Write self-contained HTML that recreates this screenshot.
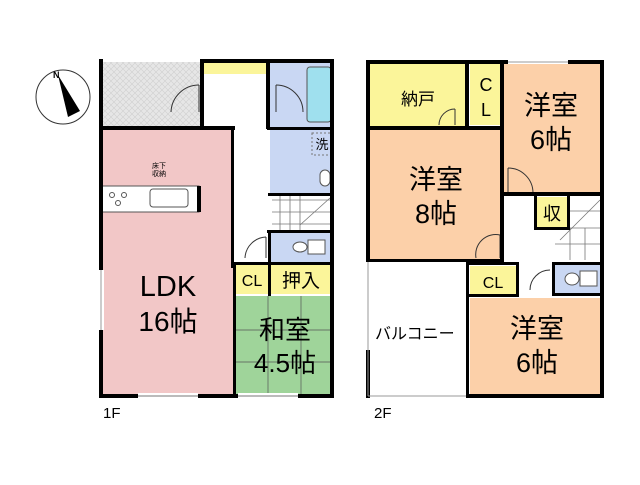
<!DOCTYPE html>
<html><head><meta charset="utf-8"><style>
html,body{margin:0;padding:0;background:#fff;}
svg text{font-family:"Liberation Sans","Noto Sans CJK JP",sans-serif;}
</style></head><body>
<svg width="640" height="480" viewBox="0 0 640 480" xmlns="http://www.w3.org/2000/svg">
<defs>
<pattern id="hatch" width="6" height="6" patternUnits="userSpaceOnUse">
<rect width="6" height="6" fill="#e6e6e6"/><path d="M0 6L6 0M0 0L6 6" stroke="#cfcfcf" stroke-width="0.6"/>
</pattern>
</defs>
<circle cx="63" cy="97" r="27" fill="#fff" stroke="#333" stroke-width="1"/>
<polygon points="58,75 80,111 68,117" fill="#000"/>
<text x="53" y="78" font-size="9" font-weight="bold">N</text>

<rect x="102" y="62" width="99" height="65" fill="url(#hatch)"/>
<rect x="102" y="128" width="131" height="268" fill="#f2c7c7"/>
<rect x="203" y="62" width="64" height="12" fill="#fbf59a"/>
<rect x="270" y="62" width="63" height="66" fill="#c9d7f3"/>
<rect x="307" y="67" width="24" height="55" rx="3" fill="#9fe0ee" stroke="#555" stroke-width="1"/>
<rect x="270" y="130" width="63" height="64" fill="#c9d7f3"/>
<rect x="270" y="232" width="63" height="30" fill="#c9d7f3"/>
<rect x="236" y="264" width="32" height="30" fill="#fbf59a"/>
<rect x="270" y="264" width="63" height="30" fill="#fbf59a"/>
<rect x="236" y="296" width="97" height="100" fill="#9fd49a"/>
<g stroke="#555" stroke-width="0.7" fill="none">
<line x1="268" y1="296" x2="268" y2="396"/><line x1="301" y1="296" x2="301" y2="396"/>
<line x1="236" y1="330" x2="333" y2="330"/><line x1="236" y1="362" x2="333" y2="362"/>
</g>
<rect x="102" y="186" width="97" height="26" fill="#fff" stroke="#555" stroke-width="1"/>
<rect x="150" y="189" width="38" height="18" rx="3" fill="#fff" stroke="#555"/>
<circle cx="112" cy="195" r="2.5" fill="none" stroke="#555"/><circle cx="124" cy="195" r="2.5" fill="none" stroke="#555"/><circle cx="118" cy="203" r="2.5" fill="none" stroke="#555"/>
<rect x="197" y="186" width="4" height="26" fill="#000"/>
<g stroke="#777" stroke-width="0.8">
<line x1="272" y1="200" x2="333" y2="200"/><line x1="272" y1="212" x2="333" y2="212"/><line x1="272" y1="224" x2="333" y2="224"/>
<line x1="280" y1="196" x2="280" y2="230"/><line x1="290" y1="196" x2="290" y2="230"/><line x1="300" y1="196" x2="300" y2="230"/>
<line x1="300" y1="225" x2="330" y2="198"/>
</g>
<rect x="320" y="170" width="10" height="16" rx="5" fill="#fff" stroke="#555"/>
<ellipse cx="300" cy="247" rx="7" ry="5" fill="#fff" stroke="#555"/><rect x="308" y="240" width="17" height="14" fill="#fff" stroke="#555"/>
<rect x="312" y="133" width="19" height="22" fill="none" stroke="#777" stroke-dasharray="2,2"/>
<g stroke="#333" stroke-width="1" fill="none">
<path d="M171 112 A28 28 0 0 1 199 85"/><line x1="199" y1="85" x2="199" y2="112"/>
<path d="M245 258 A22 22 0 0 1 266 237"/><line x1="266" y1="237" x2="266" y2="258"/>
<path d="M276 85 A27 27 0 0 1 303 112"/><line x1="276" y1="85" x2="276" y2="112"/>
</g>
<g fill="#000">
<rect x="99" y="59" width="4" height="339"/>
<rect x="99" y="394" width="235" height="4"/>
<rect x="330" y="59" width="4" height="339"/>
<rect x="99" y="126" width="136" height="4"/>
<rect x="231" y="126" width="3" height="142"/>
<rect x="200" y="59" width="4" height="70"/>
<rect x="266" y="59" width="4" height="70"/>
<rect x="200" y="59" width="134" height="4"/>
<rect x="267" y="127" width="67" height="3"/>
<rect x="268" y="193" width="66" height="3"/>
<rect x="267" y="230" width="67" height="3"/>
<rect x="232" y="262" width="102" height="3"/>
<rect x="233" y="262" width="3" height="136"/>
<rect x="268" y="230" width="3" height="66"/>
</g>
<g fill="#fff">
<rect x="138" y="393" width="60" height="6"/><rect x="238" y="393" width="60" height="6"/>
<rect x="98" y="270" width="6" height="60"/>
</g>
<line x1="138" y1="396" x2="198" y2="396" stroke="#777"/><line x1="238" y1="396" x2="298" y2="396" stroke="#777"/>
<line x1="101" y1="270" x2="101" y2="330" stroke="#999"/>

<text x="168" y="296" font-size="29" text-anchor="middle">LDK</text>
<text x="168" y="331" font-size="28" text-anchor="middle">16帖</text>
<text x="285" y="339" font-size="26" text-anchor="middle">和室</text>
<text x="285" y="372" font-size="26" text-anchor="middle">4.5帖</text>
<text x="252" y="286" font-size="16" text-anchor="middle">CL</text>
<text x="301" y="287" font-size="19" text-anchor="middle">押入</text>
<text x="322" y="149" font-size="13" text-anchor="middle">洗</text>
<text x="159" y="168" font-size="7" text-anchor="middle">床下</text>
<text x="159" y="176" font-size="7" text-anchor="middle">収納</text>
<text x="103" y="418" font-size="15">1F</text>

<rect x="370" y="64" width="97" height="63" fill="#fbf59a"/>
<rect x="470" y="64" width="32" height="61" fill="#fbf59a"/>
<rect x="503" y="64" width="99" height="130" fill="#fcd0a9"/>
<rect x="370" y="130" width="132" height="130" fill="#fcd0a9"/>
<rect x="537" y="197" width="30" height="30" fill="#fbf59a"/>
<rect x="470" y="266" width="47" height="30" fill="#fbf59a"/>
<rect x="555" y="264" width="47" height="30" fill="#c9d7f3"/>
<rect x="470" y="298" width="132" height="98" fill="#fcd0a9"/>
<ellipse cx="572" cy="279" rx="7" ry="6" fill="#fff" stroke="#555"/><rect x="580" y="271" width="17" height="15" fill="#fff" stroke="#555"/>
<g stroke="#777" stroke-width="0.8">
<line x1="570" y1="211" x2="602" y2="211"/><line x1="555" y1="228" x2="602" y2="228"/><line x1="555" y1="244" x2="602" y2="244"/>
<line x1="570" y1="228" x2="570" y2="260"/><line x1="585" y1="228" x2="585" y2="260"/>
<line x1="560" y1="240" x2="600" y2="200"/>
</g>
<g stroke="#333" stroke-width="1" fill="none">
<path d="M439 125 A16 16 0 0 1 455 109"/><line x1="455" y1="109" x2="455" y2="125"/>
<path d="M508 168 A25 25 0 0 1 533 193"/><line x1="508" y1="168" x2="508" y2="193"/>
<path d="M476 258 A20 20 0 0 1 500 235"/><line x1="500" y1="235" x2="500" y2="258"/>
<path d="M530 290 A20 20 0 0 1 550 270"/>
</g>
<g fill="#000">
<rect x="366" y="60" width="4" height="202"/>
<rect x="366" y="60" width="238" height="4"/>
<rect x="600" y="60" width="4" height="338"/>
<rect x="467" y="394" width="137" height="4"/>
<rect x="366" y="126" width="137" height="4"/>
<rect x="465" y="60" width="4" height="70"/>
<rect x="500" y="60" width="4" height="205"/>
<rect x="366" y="259" width="137" height="3"/>
<rect x="503" y="192" width="101" height="4"/>
<rect x="534" y="194" width="3" height="36"/>
<rect x="534" y="227" width="35" height="3"/>
<rect x="567" y="194" width="3" height="36"/>
<rect x="466" y="262" width="3" height="136"/>
<rect x="466" y="262" width="52" height="3"/>
<rect x="516" y="262" width="3" height="34"/>
<rect x="466" y="294" width="53" height="3"/>
<rect x="552" y="262" width="52" height="3"/>
<rect x="552" y="262" width="3" height="34"/>
<rect x="552" y="293" width="52" height="3"/>
<rect x="366" y="350" width="4" height="48"/>
</g>
<rect x="508" y="60" width="60" height="4" fill="#fff"/>
<g stroke="#999" fill="none"><line x1="368" y1="262" x2="368" y2="396"/><line x1="368" y1="396" x2="466" y2="396"/><line x1="508" y1="62" x2="568" y2="62"/></g>

<text x="418" y="105" font-size="17" text-anchor="middle">納戸</text>
<text x="486" y="91" font-size="18" text-anchor="middle">C</text>
<text x="486" y="116" font-size="18" text-anchor="middle">L</text>
<text x="551" y="115" font-size="27" text-anchor="middle">洋室</text>
<text x="551" y="149" font-size="27" text-anchor="middle">6帖</text>
<text x="436" y="189" font-size="27" text-anchor="middle">洋室</text>
<text x="436" y="223" font-size="27" text-anchor="middle">8帖</text>
<text x="552" y="220" font-size="18" text-anchor="middle">収</text>
<text x="493" y="288" font-size="16" text-anchor="middle">CL</text>
<text x="537" y="338" font-size="27" text-anchor="middle">洋室</text>
<text x="537" y="372" font-size="27" text-anchor="middle">6帖</text>
<text x="375" y="339" font-size="16">バルコニー</text>
<text x="374" y="418" font-size="15">2F</text>
</svg>
</body></html>
